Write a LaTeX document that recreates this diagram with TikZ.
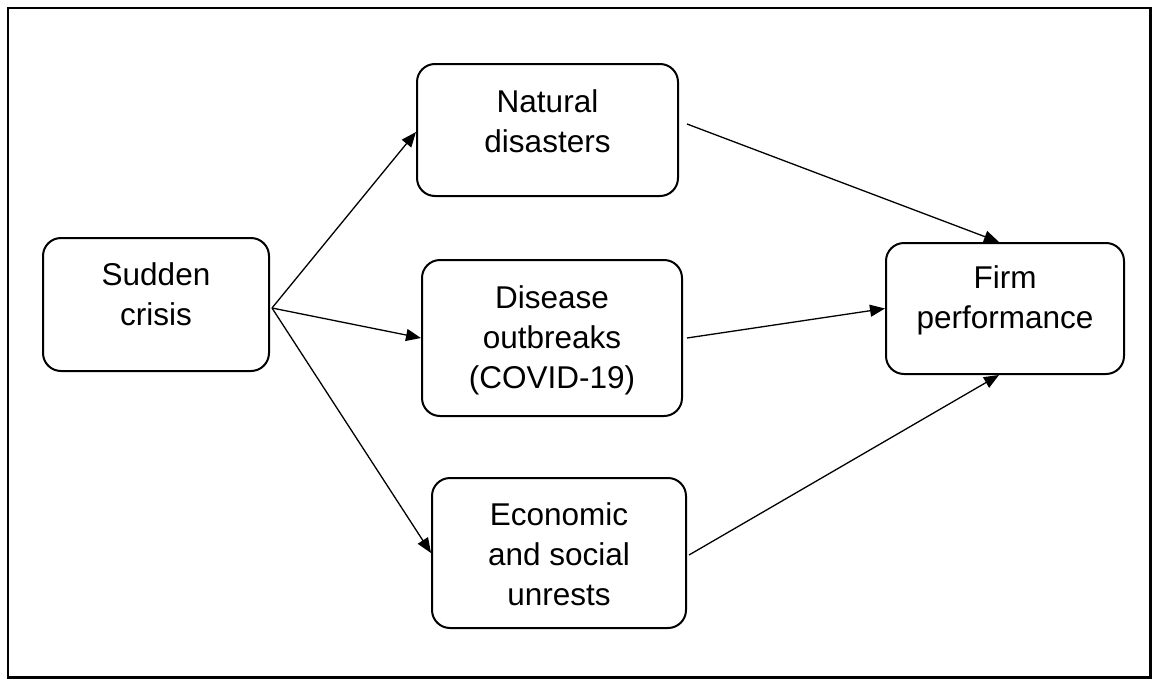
\documentclass[tikz,border=0pt]{standalone}
\usepackage{fontspec}
\setmainfont{Liberation Sans}
\usetikzlibrary{arrows.meta}
\tikzset{
  box/.style={draw=black, line width=2pt, rounded corners=18pt, inner sep=0pt},
  lbl/.style={anchor=north, inner sep=0pt, align=center, font=\fontsize{31.5}{40}\selectfont},
  conn/.style={draw=black, line width=1.3pt, -{Triangle[length=15pt,width=12pt]}},
}
\begin{document}
\begin{tikzpicture}[x=1pt,y=-1pt]
\useasboundingbox (0,0) rectangle (1153,680);
\draw[line width=2.5pt] (8,8) rectangle (1150.5,677.5);
% boxes
\node[box, minimum width=226pt, minimum height=133pt] (sc) at (156,304.5) {};
\node[box, minimum width=261pt, minimum height=132pt] (nd) at (547.5,130) {};
\node[box, minimum width=260pt, minimum height=156pt] (do) at (552,338) {};
\node[box, minimum width=254pt, minimum height=150pt] (es) at (559,553) {};
\node[box, minimum width=238pt, minimum height=131pt] (fp) at (1005,308.5) {};
% labels
\node[lbl] (sct) at (156,262.4) {Sudden\\crisis};
\node[lbl] (ndt) at (547.5,89.4) {Natural\\disasters};
\node[lbl] (dot) at (552,285.4) {Disease\\outbreaks\\(COVID-19)};
\node[lbl] (est) at (559,502.4) {Economic\\and social\\unrests};
\node[lbl] (fpt) at (1005,265.4) {Firm\\performance};
% connectors
\coordinate (src) at ([shift={(2,3.5)}]sc.east);
\draw[conn] (src) -- ([shift={(0,2)}]nd.west);
\draw[conn] (src) -- (do.west);
\draw[conn] (src) -- (es.west);
\draw[conn] ([shift={(8,-6)}]nd.east) -- ([shift={(-6,0)}]fp.north);
\draw[conn] ([shift={(4,0)}]do.east) -- (fp.west);
\draw[conn] ([shift={(2,2)}]es.east) -- ([shift={(-6,0)}]fp.south);
\end{tikzpicture}
\end{document}
